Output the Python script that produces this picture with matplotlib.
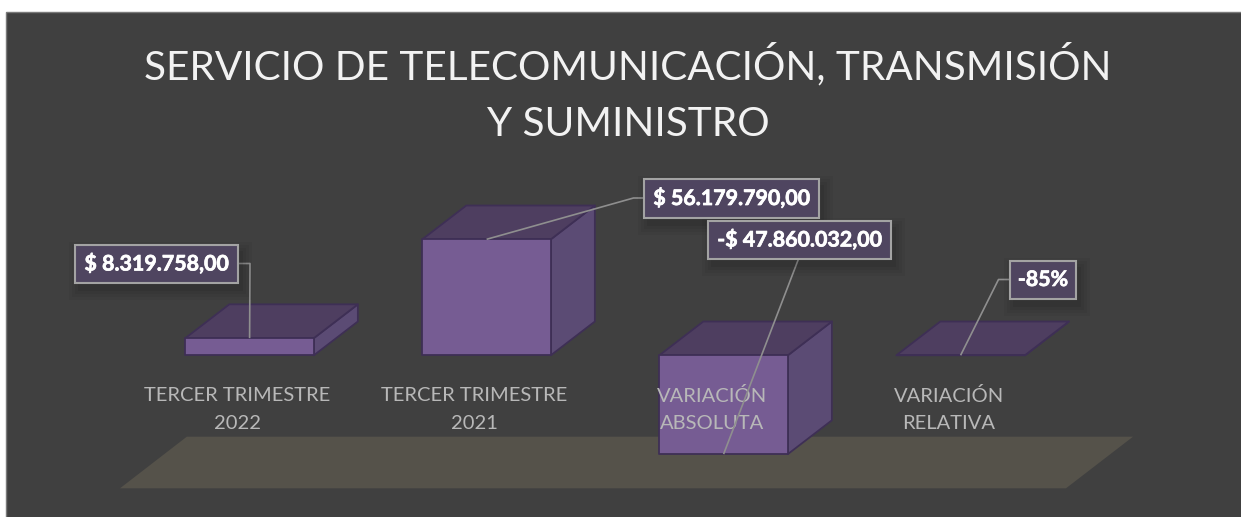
import matplotlib
matplotlib.use("Agg")
import matplotlib.pyplot as plt
import matplotlib.patheffects as pe
from matplotlib.patches import Polygon, Rectangle

categories = ["TERCER TRIMESTRE\n2022", "TERCER TRIMESTRE\n2021", "VARIACIÓN\nABSOLUTA", "VARIACIÓN\nRELATIVA"]
values = [8319758.00, 56179790.00, -47860032.00, -0.85]
value_labels = ["$ 8.319.758,00", "$ 56.179.790,00", "-$ 47.860.032,00", "-85%"]
title = "SERVICIO DE TELECOMUNICACIÓN, TRANSMISIÓN\nY SUMINISTRO"

W, H = 1241, 517
FONT = "Lato"

# layout in reference pixels
X0_PX, STEP_PX = 249.6, 237.0
Y0_PX, PX_PER_PESO = 355.3, 116.0 / 56179790.0
BAR_W_PX, DEPTH_X_PX, DEPTH_Y_PX = 128.5, 44.0, 33.8

# label box (left, top, right, bottom) and elbow of the leader line
boxes = [(75, 245, 238, 283), (644, 179, 819, 218), (708, 221, 891, 259), (1010, 261, 1076, 299)]
elbows = [[(238, 263.5), (250, 263.5)], [(644, 198), (633.5, 198)], [(798.5, 259)], [(1010, 279.5), (998.5, 279.5)]]


def px_x(px):
    return (px - X0_PX) / STEP_PX


def px_y(py):
    return (Y0_PX - py) / PX_PER_PESO


def poly(points, **kw):
    ax.add_patch(Polygon(points, closed=True, **kw))


fig = plt.figure(figsize=(W / 100, H / 100), dpi=100, facecolor="white")
ax = fig.add_axes([0, 0, 1, 1])
ax.set_xlim(px_x(0), px_x(W))
ax.set_ylim(px_y(H), px_y(0))
ax.axis("off")

# chart area, runs off the right and bottom of the picture
ax.add_patch(Rectangle((px_x(6.5), px_y(H + 5)), (W + 5 - 6.5) / STEP_PX, (H + 5 - 11.5) / PX_PER_PESO,
                       facecolor="#404040", edgecolor="#7a7a7a", linewidth=1.0, zorder=0))

# floor
poly([(px_x(120), px_y(488.3)), (px_x(186.8), px_y(436.7)), (px_x(1133), px_y(436.7)), (px_x(1066), px_y(488.3))],
     facecolor="#55524a", edgecolor="none", zorder=1)

bar_w = BAR_W_PX / STEP_PX
dx = DEPTH_X_PX / STEP_PX
dy = DEPTH_Y_PX / PX_PER_PESO
edge = dict(edgecolor="#3e2f55", linewidth=1.3, joinstyle="round")

for i, v in enumerate(values):
    top, bottom = max(v, 0), min(v, 0)
    left, right = i - bar_w / 2, i + bar_w / 2
    poly([(right, bottom), (right + dx, bottom + dy), (right + dx, top + dy), (right, top)],
         facecolor="#5b4b74", zorder=2, **edge)
    poly([(left, top), (left + dx, top + dy), (right + dx, top + dy), (right, top)],
         facecolor="#4e3e60", zorder=2, **edge)
    ax.add_patch(Rectangle((left, bottom), bar_w, top - bottom, facecolor="#765c93", zorder=2, **edge))

    # category label, sits a bit left of the bar centre
    ax.text(i - 12 / STEP_PX, px_y(409.5), categories[i], ha="center", va="center", color="#b8b8b8",
            fontsize=14.5, family=FONT, linespacing=1.78, zorder=3)

    # leader line
    pts = [(px_x(x), px_y(y)) for x, y in elbows[i]] + [(i, v)]
    ax.plot([p[0] for p in pts], [p[1] for p in pts], color="#8f8f8f", linewidth=1.2, zorder=4,
            solid_capstyle="butt")

    # value label with soft shadow
    l, t, r, b = boxes[i]
    for grow, alpha in [(10, 0.03), (7, 0.04), (4, 0.05), (1, 0.07)]:
        ax.add_patch(Rectangle((px_x(l + 4 - grow), px_y(b + 7 + grow)), (r - l + 2 * grow) / STEP_PX,
                               (b - t + 2 * grow) / PX_PER_PESO, facecolor="black", edgecolor="none",
                               alpha=alpha, zorder=5))
    ax.add_patch(Rectangle((px_x(l), px_y(b)), (r - l) / STEP_PX, (b - t) / PX_PER_PESO,
                           facecolor="#4f4560", edgecolor="#a3a3a3", linewidth=1.5, zorder=6))
    ax.text(px_x((l + r) / 2), px_y((t + b) / 2), value_labels[i], ha="center", va="center", color="white",
            fontsize=15.4, fontweight="bold", family=FONT, zorder=7,
            path_effects=[pe.withStroke(linewidth=0.5, foreground="white")])

ax.text(px_x(628), px_y(93), title, ha="center", va="center", color="#f2f2f2", fontsize=29.2,
        family=FONT, linespacing=1.66, zorder=3)

fig.savefig("out.png", dpi=100, facecolor="white")
